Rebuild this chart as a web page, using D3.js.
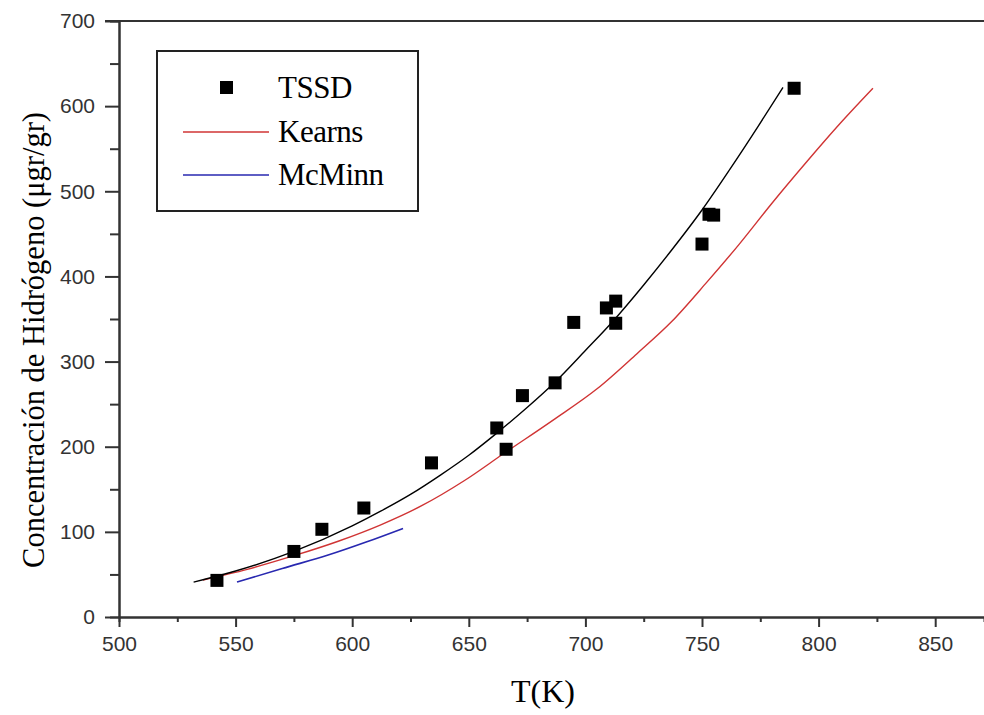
<!DOCTYPE html>
<html lang="es">
  <head>
    <meta charset="UTF-8" />
    <title>TSSD</title>
    <script src="https://cdn.jsdelivr.net/npm/d3@7"></script>
    <style>
      body { margin: 0; background: #fff; }
      .tick text { font-family: "Liberation Sans", Arial, sans-serif; font-size: 21px; fill: #333; }
      .serif { font-family: "Liberation Serif", "Times New Roman", serif; fill: #000; }
    </style>
  </head>
  <body>
    <script>
      // datos
      const tssdT = [542, 575, 587, 605, 634, 662, 666, 673, 687, 695, 709, 713, 713, 750, 753, 755, 789.5];
      const tssdC = [43, 77, 103, 128, 181, 222, 197, 260, 275, 346, 363, 371, 345, 438, 473, 472, 621];

      // ajuste (linea negra)
      const fitT = [532, 550, 575, 600, 612, 625, 638, 650, 662, 675, 687, 700, 712, 725, 737, 750, 762, 774, 784.7];
      const fitC = [41, 54, 77, 107, 124, 144, 167, 190, 216, 246, 276, 313, 348, 390, 431, 478, 526, 576, 622];

      const kearnsT = [536, 555, 575, 594, 612, 630, 648, 665, 686, 705, 722, 737, 752, 766, 780, 795, 809, 823.3];
      const kearnsC = [43.5, 56, 72, 89, 108, 131, 160, 192, 231, 268, 309, 347, 393, 438, 486, 535, 579, 621];

      const mcminnT = [550.6, 570, 590, 606, 621.8];
      const mcminnC = [41, 57, 73, 88, 104];

      const xTicks = [500, 550, 600, 650, 700, 750, 800, 850];
      const yTicks = [0, 100, 200, 300, 400, 500, 600, 700];
      const legendNames = ["TSSD", "Kearns", "McMinn"];

      const W = 984, H = 715;
      const svg = d3.select("body").append("svg").attr("width", W).attr("height", H);

      const x = d3.scaleLinear().domain([500, 500 + (W - 119) / 2.332]).range([119, W]);
      const y = d3.scaleLinear().domain([0, 700]).range([617, 21]);

      const ink = "#333";

      // marco superior
      svg.append("line")
        .attr("x1", 105).attr("x2", W)
        .attr("y1", y(700)).attr("y2", y(700))
        .attr("stroke", ink).attr("stroke-width", 2);

      // ejes
      const gx = svg.append("g").attr("transform", "translate(0," + y(0) + ")");
      gx.call(d3.axisBottom(x).tickValues(d3.range(525, 870, 50)).tickSize(5).tickFormat(""));
      gx.call(g => g.append("g").call(d3.axisBottom(x).tickValues(xTicks).tickSize(10).tickSizeOuter(0).tickPadding(9)));
      gx.selectAll("path").attr("stroke", ink).attr("stroke-width", 2);
      gx.selectAll("line").attr("stroke", ink).attr("stroke-width", 2);

      const gy = svg.append("g").attr("transform", "translate(" + x(500) + ",0)");
      gy.call(d3.axisLeft(y).tickValues(d3.range(50, 700, 100)).tickSize(9).tickFormat(""));
      gy.call(g => g.append("g").call(d3.axisLeft(y).tickValues(yTicks).tickSize(14).tickSizeOuter(0).tickPadding(10)));
      gy.selectAll("path").attr("stroke", ink).attr("stroke-width", 2);
      gy.selectAll("line").attr("stroke", ink).attr("stroke-width", 2);
      svg.selectAll(".domain").attr("fill", "none");

      // curvas
      const line = d3.line().x(d => x(d[0])).y(d => y(d[1])).curve(d3.curveMonotoneX);

      svg.append("path")
        .datum(d3.zip(kearnsT, kearnsC))
        .attr("d", line).attr("fill", "none")
        .attr("stroke", "#d03434").attr("stroke-width", 1.4);

      svg.append("path")
        .datum(d3.zip(mcminnT, mcminnC))
        .attr("d", line).attr("fill", "none")
        .attr("stroke", "#2828b0").attr("stroke-width", 1.6);

      svg.append("path")
        .datum(d3.zip(fitT, fitC))
        .attr("d", line).attr("fill", "none")
        .attr("stroke", "#000").attr("stroke-width", 1.4);

      const sq = 13;
      svg.selectAll("rect.pt")
        .data(d3.zip(tssdT, tssdC))
        .join("rect")
        .attr("class", "pt")
        .attr("x", d => x(d[0]) - sq / 2)
        .attr("y", d => y(d[1]) - sq / 2)
        .attr("width", sq).attr("height", sq)
        .attr("fill", "#000");

      // leyenda
      const lg = svg.append("g");
      lg.append("rect")
        .attr("x", 157).attr("y", 51).attr("width", 261).attr("height", 160)
        .attr("fill", "#fff").attr("stroke", "#222").attr("stroke-width", 2);
      lg.append("rect").attr("x", 220).attr("y", 81).attr("width", 13).attr("height", 13).attr("fill", "#000");
      lg.append("line").attr("x1", 183).attr("x2", 269).attr("y1", 132).attr("y2", 132)
        .attr("stroke", "#d03434").attr("stroke-width", 1.6);
      lg.append("line").attr("x1", 183).attr("x2", 269).attr("y1", 175).attr("y2", 175)
        .attr("stroke", "#2828b0").attr("stroke-width", 1.6);
      lg.selectAll("text")
        .data(legendNames)
        .join("text")
        .attr("class", "serif")
        .attr("x", 278)
        .attr("y", (d, i) => 98 + i * 43.5)
        .attr("font-size", 31)
        .attr("letter-spacing", -0.5)
        .text(d => d);

      // titulos
      svg.append("text")
        .attr("class", "serif")
        .attr("x", 543).attr("y", 702)
        .attr("text-anchor", "middle")
        .attr("font-size", 32)
        .text("T(K)");

      svg.append("text")
        .attr("class", "serif")
        .attr("transform", "translate(44,340) rotate(-90)")
        .attr("text-anchor", "middle")
        .attr("font-size", 30.5)
        .text("Concentración de Hidrógeno (μgr/gr)");
    </script>
  </body>
</html>
